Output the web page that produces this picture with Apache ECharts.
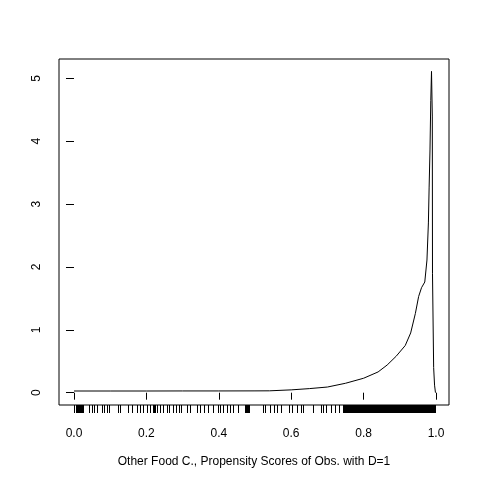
<!DOCTYPE html>
<html>
<head>
<meta charset="utf-8">
<script src="https://cdn.jsdelivr.net/npm/echarts@6/dist/echarts.min.js"></script>
<style>
  html, body { margin: 0; padding: 0; background: #fff; }
  #chart { width: 480px; height: 480px; }
</style>
</head>
<body>
<div id="chart"></div>
<script>
// density curve of propensity scores
var densX = [0.0, 0.1, 0.2, 0.3, 0.4, 0.5, 0.54, 0.6, 0.65, 0.7, 0.75, 0.8, 0.84, 0.865, 0.89,
  0.915, 0.93, 0.943, 0.952, 0.96, 0.969, 0.975, 0.979, 0.981, 0.9834, 0.9856, 0.9876,
  0.9898, 0.9903, 0.9935, 0.996, 0.9985];
var densY = [0.027, 0.027, 0.027, 0.028, 0.028, 0.029, 0.03, 0.045, 0.065, 0.09, 0.15, 0.23, 0.33, 0.44, 0.58,
  0.75, 0.95, 1.26, 1.53, 1.67, 1.76, 2.11, 2.70, 3.27, 3.86, 4.65, 5.11,
  4.40, 1.90, 0.40, 0.12, 0.0];

// rug: observed scores
var rugX = [0.002, 0.006, 0.008, 0.010, 0.012, 0.014, 0.016, 0.018, 0.020, 0.022, 0.024, 0.026,
  0.044, 0.050, 0.057, 0.064, 0.078, 0.084, 0.092, 0.099, 0.124, 0.129,
  0.151, 0.163, 0.176, 0.184, 0.193, 0.202, 0.211, 0.219, 0.222, 0.226, 0.230,
  0.239, 0.248, 0.257, 0.265, 0.274, 0.283, 0.292, 0.298, 0.313, 0.322,
  0.340, 0.349, 0.361, 0.372, 0.386, 0.400, 0.406, 0.414, 0.423, 0.432, 0.442,
  0.455, 0.474, 0.476, 0.478, 0.480, 0.482, 0.484, 0.486, 0.524, 0.529, 0.543, 0.554, 0.561, 0.572,
  0.596, 0.603, 0.617, 0.628, 0.634, 0.662, 0.683, 0.688, 0.698, 0.710, 0.722, 0.733, 0.745,
  0.747, 0.749, 0.751, 0.753, 0.755, 0.757, 0.759, 0.761, 0.763, 0.765, 0.767, 0.769,
  0.771, 0.773, 0.775, 0.777, 0.779, 0.781, 0.783, 0.785, 0.787, 0.789, 0.791, 0.793,
  0.795, 0.797, 0.799, 0.801, 0.803, 0.805, 0.807, 0.809, 0.811, 0.813, 0.815, 0.817,
  0.819, 0.821, 0.823, 0.825, 0.827, 0.829, 0.831, 0.833, 0.835, 0.837, 0.839, 0.841,
  0.843, 0.845, 0.847, 0.849, 0.851, 0.853, 0.855, 0.857, 0.859, 0.861, 0.863, 0.865,
  0.867, 0.869, 0.871, 0.873, 0.875, 0.877, 0.879, 0.881, 0.883, 0.885, 0.887, 0.889,
  0.891, 0.893, 0.895, 0.897, 0.899, 0.901, 0.903, 0.905, 0.907, 0.909, 0.911, 0.913,
  0.915, 0.917, 0.919, 0.921, 0.923, 0.925, 0.927, 0.929, 0.931, 0.933, 0.935, 0.937,
  0.939, 0.941, 0.943, 0.945, 0.947, 0.949, 0.951, 0.953, 0.955, 0.957, 0.959, 0.961,
  0.963, 0.965, 0.967, 0.969, 0.971, 0.973, 0.975, 0.977, 0.979, 0.981, 0.983, 0.985,
  0.987, 0.989, 0.991, 0.993, 0.995, 0.997, 0.998, 0.999];

var xTicks = [0, 0.2, 0.4, 0.6, 0.8, 1.0];
var yTicks = [0, 1, 2, 3, 4, 5];
var xTitle = 'Other Food C., Propensity Scores of Obs. with D=1';

var myChart = echarts.init(document.getElementById('chart'));

var curve = densX.map(function (x, i) { return [x, densY[i]]; });
var rug = rugX.map(function (x) { return [x, 0]; });

var font = 'Liberation Sans, Arial, sans-serif';

myChart.setOption({
  animation: false,
  backgroundColor: '#fff',
  grid: [{
    left: 59, top: 59, width: 390, height: 346,
    show: true, borderColor: '#000', borderWidth: 1, backgroundColor: 'transparent'
  }, {
    left: 59, top: 405, width: 390, height: 8,
    show: false
  }],
  xAxis: [{
    type: 'value',
    gridIndex: 0,
    min: -0.0414,
    max: 1.0359,
    splitLine: { show: false },
    axisLine: { show: false },
    axisTick: {
      show: true, length: 7, inside: false,
      customValues: xTicks,
      lineStyle: { color: '#000', width: 1 }
    },
    axisLabel: {
      customValues: xTicks,
      margin: 23,
      color: '#000',
      fontSize: 12,
      fontFamily: font,
      formatter: function (v) { return v.toFixed(1); }
    },
    name: xTitle,
    nameLocation: 'middle',
    nameGap: 51,
    nameTextStyle: { color: '#000', fontSize: 12, fontFamily: font }
  }, {
    type: 'value',
    gridIndex: 1,
    min: -0.0414,
    max: 1.0359,
    show: false
  }],
  yAxis: [{
    type: 'value',
    gridIndex: 0,
    min: -0.1956,
    max: 5.307,
    splitLine: { show: false },
    axisLine: { show: false },
    axisTick: {
      show: true, length: 8, inside: false,
      customValues: yTicks,
      lineStyle: { color: '#000', width: 1 }
    },
    axisLabel: {
      customValues: yTicks,
      rotate: 90,
      margin: 16,
      color: '#000',
      fontSize: 12,
      fontFamily: font
    }
  }, {
    type: 'value',
    gridIndex: 1,
    min: -1,
    max: 1,
    show: false
  }],
  series: [{
    type: 'line',
    xAxisIndex: 0,
    yAxisIndex: 0,
    data: curve,
    showSymbol: false,
    symbol: 'none',
    lineStyle: { color: '#000', width: 1 },
    silent: true
  }, {
    type: 'custom',
    xAxisIndex: 1,
    yAxisIndex: 1,
    data: rug,
    silent: true,
    renderItem: function (params, api) {
      var c = api.coord([api.value(0), 0]);
      var cs = params.coordSys;
      return {
        type: 'rect',
        shape: { x: Math.floor(c[0]), y: cs.y, width: 1, height: cs.height },
        style: { fill: '#000' }
      };
    }
  }]
});
</script>
</body>
</html>
